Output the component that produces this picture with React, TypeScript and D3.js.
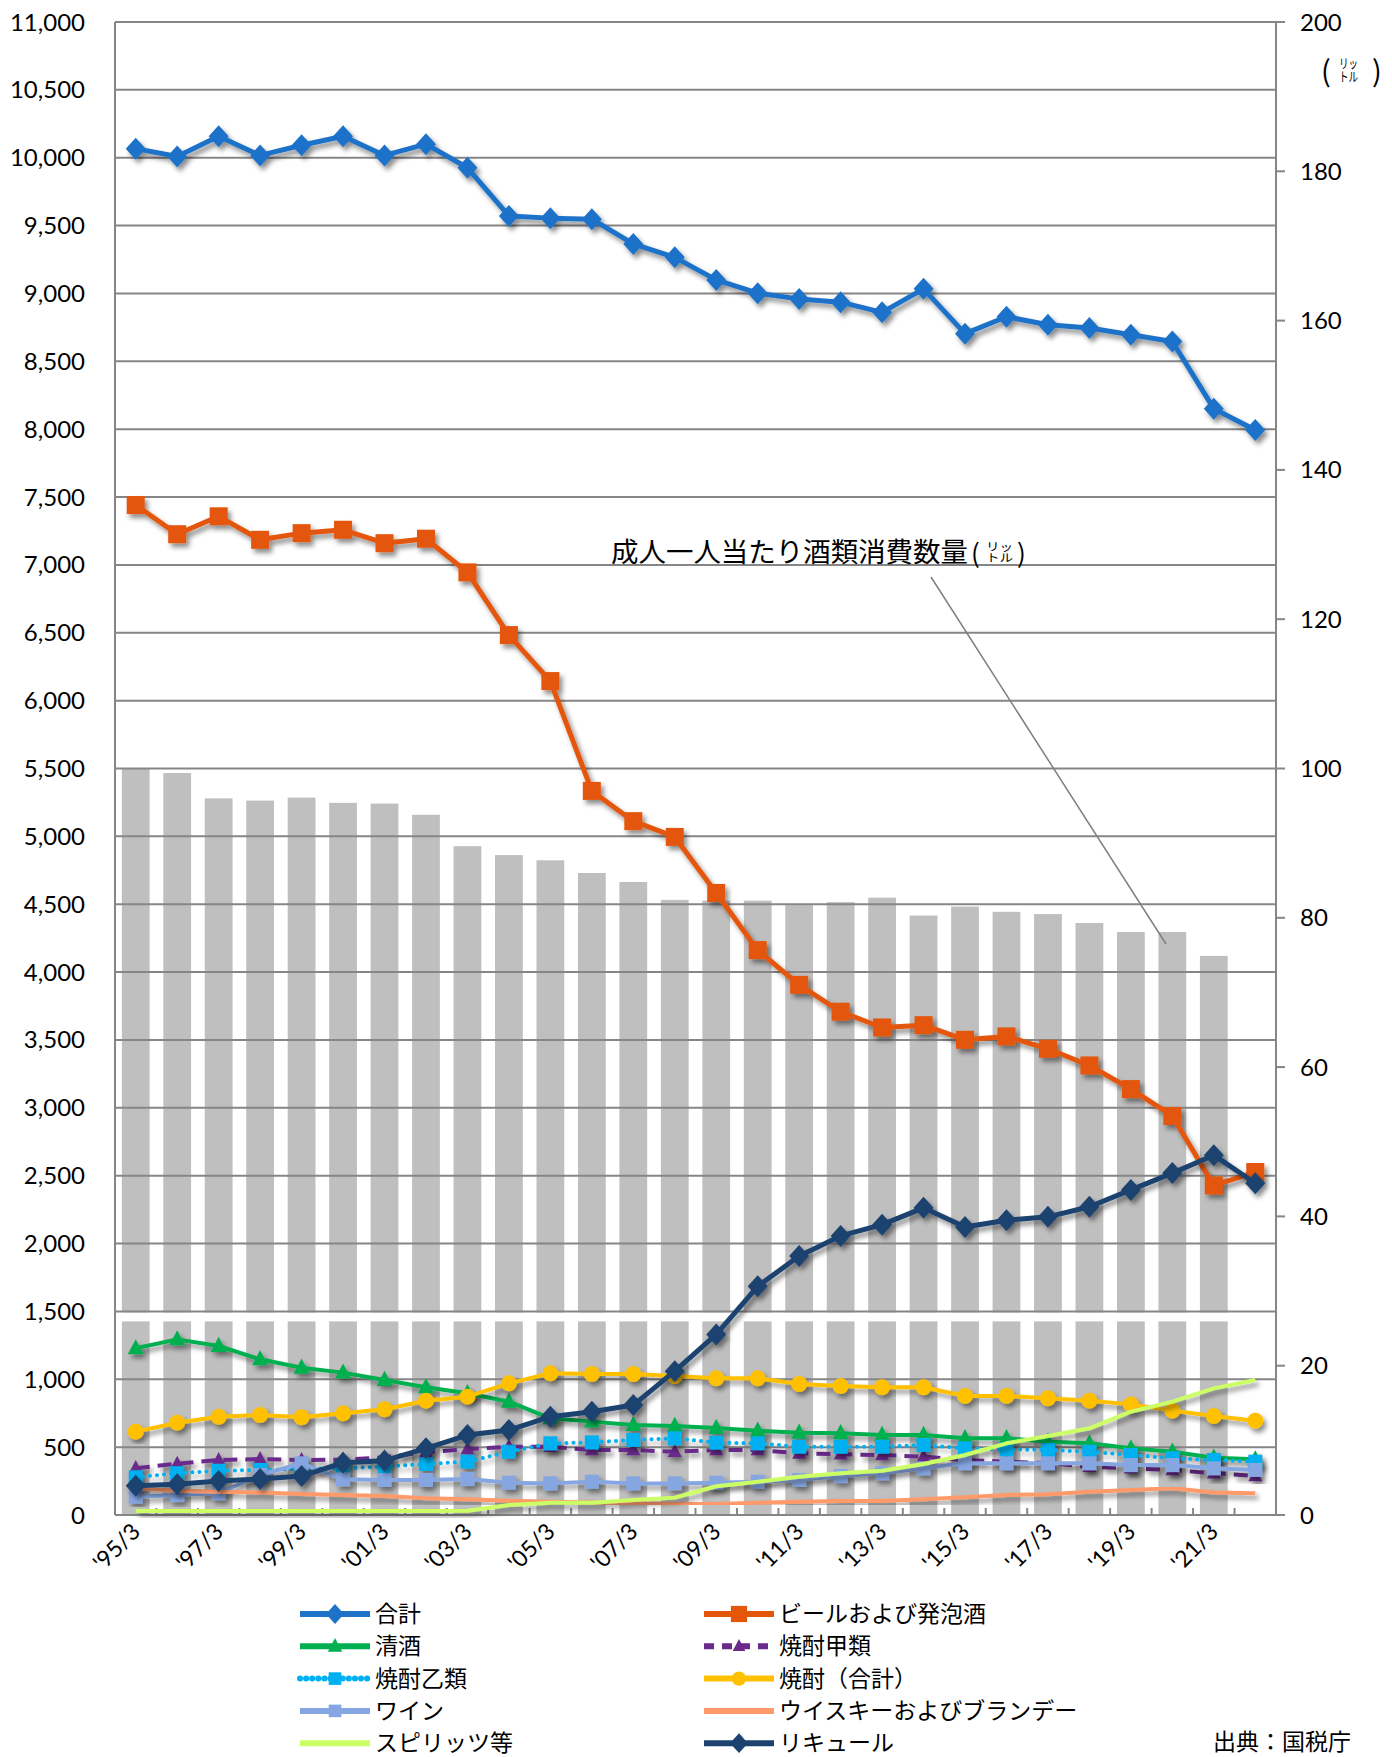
import React from "react";
import * as d3 from "d3";

// fiscal years (March ends)
const categories = [
  "'95/3", "'96/3", "'97/3", "'98/3", "'99/3", "'00/3", "'01/3", "'02/3", "'03/3", "'04/3",
  "'05/3", "'06/3", "'07/3", "'08/3", "'09/3", "'10/3", "'11/3", "'12/3", "'13/3", "'14/3",
  "'15/3", "'16/3", "'17/3", "'18/3", "'19/3", "'20/3", "'21/3", "'22/3",
];

// 千kl (left axis)
const total = [10067, 10009, 10158, 10017, 10092, 10158, 10017, 10100, 9926, 9571, 9555, 9547, 9365, 9266, 9100, 9002, 8960, 8936, 8861, 9034, 8704, 8828, 8770, 8746, 8696, 8646, 8151, 7994];
const beer = [7441, 7226, 7358, 7185, 7234, 7259, 7160, 7193, 6945, 6483, 6144, 5335, 5112, 4996, 4583, 4162, 3906, 3708, 3592, 3609, 3501, 3526, 3435, 3312, 3138, 2940, 2428, 2527];
const sake = [1228, 1294, 1245, 1147, 1085, 1049, 995, 941, 897, 835, 712, 688, 663, 656, 641, 621, 606, 602, 589, 589, 565, 565, 540, 528, 491, 466, 422, 410];
const shochuKou = [345, 378, 405, 412, 405, 408, 425, 463, 485, 503, 503, 479, 479, 466, 479, 479, 454, 447, 442, 430, 405, 393, 381, 356, 344, 332, 307, 288];
const shochuOtsu = [278, 308, 326, 332, 340, 344, 356, 376, 393, 466, 528, 535, 553, 565, 533, 528, 503, 503, 503, 516, 491, 484, 479, 466, 442, 418, 405, 393];
const shochuTotal = [614, 680, 724, 737, 720, 749, 779, 842, 872, 970, 1044, 1039, 1039, 1024, 1007, 1007, 965, 950, 941, 941, 877, 877, 860, 842, 815, 769, 729, 695];
const wine = [135, 147, 160, 295, 381, 263, 258, 258, 265, 238, 233, 245, 233, 233, 238, 245, 258, 287, 307, 344, 381, 381, 381, 381, 368, 368, 344, 332];
const whisky = [197, 179, 172, 165, 155, 147, 140, 123, 116, 105, 98, 93, 86, 81, 81, 91, 98, 103, 103, 116, 130, 147, 152, 172, 184, 197, 165, 160];
const spirits = [30, 30, 30, 30, 30, 30, 30, 30, 32, 74, 91, 91, 110, 128, 212, 245, 282, 307, 326, 376, 442, 528, 582, 639, 761, 835, 933, 995];
const liqueur = [216, 226, 250, 265, 287, 385, 400, 491, 589, 626, 724, 761, 810, 1060, 1330, 1685, 1908, 2056, 2139, 2263, 2122, 2172, 2197, 2271, 2395, 2519, 2651, 2444];

// 成人一人当たり (liters, right axis)
const perAdult = [100.0, 99.4, 96.0, 95.7, 96.1, 95.4, 95.3, 93.8, 89.6, 88.4, 87.7, 86.0, 84.8, 82.4, 82.3, 82.3, 81.7, 82.1, 82.7, 80.3, 81.5, 80.8, 80.5, 79.3, 78.1, 78.1, 74.9, null];

const leftTicks = d3.range(0, 11001, 500);
const rightTicks = d3.range(0, 201, 20);

const W = 1392;
const H = 1757;
const plot = { left: 115, right: 1276, top: 22, bottom: 1515 };
const numFont = "Lato, 'Open Sans', sans-serif";
const jpFont = "'Noto Sans CJK JP', sans-serif";

type Marker = "diamond" | "square" | "triangle" | "circle" | "none";

const series = [
  { name: "合計", values: total, color: "#1E72C8", width: 5, dash: "", marker: "diamond" as Marker, size: 10 },
  { name: "ビールおよび発泡酒", values: beer, color: "#E4560A", width: 5, dash: "", marker: "square" as Marker, size: 9 },
  { name: "清酒", values: sake, color: "#00B050", width: 4, dash: "", marker: "triangle" as Marker, size: 8 },
  { name: "焼酎甲類", values: shochuKou, color: "#6A2A8C", width: 4, dash: "14 8", marker: "triangle" as Marker, size: 7 },
  { name: "焼酎乙類", values: shochuOtsu, color: "#00B0F0", width: 4, dash: "0.1 7", marker: "square" as Marker, size: 7 },
  { name: "焼酎（合計）", values: shochuTotal, color: "#FFC000", width: 4, dash: "", marker: "circle" as Marker, size: 8 },
  { name: "ワイン", values: wine, color: "#86A6E2", width: 4, dash: "", marker: "square" as Marker, size: 7 },
  { name: "ウイスキーおよびブランデー", values: whisky, color: "#FF9A6A", width: 4, dash: "", marker: "none" as Marker, size: 0 },
  { name: "スピリッツ等", values: spirits, color: "#CCFF66", width: 4, dash: "", marker: "none" as Marker, size: 0 },
  { name: "リキュール", values: liqueur, color: "#1D426F", width: 5, dash: "", marker: "diamond" as Marker, size: 10 },
];

// legend layout: two columns, rows in this order
const legendOrder = [
  ["合計", "ビールおよび発泡酒"],
  ["清酒", "焼酎甲類"],
  ["焼酎乙類", "焼酎（合計）"],
  ["ワイン", "ウイスキーおよびブランデー"],
  ["スピリッツ等", "リキュール"],
];

function MarkerShape({ type, x, y, s, color }: { type: Marker; x: number; y: number; s: number; color: string }) {
  if (type === "diamond") {
    return <path d={`M${x},${y - s * 1.1}L${x + s},${y}L${x},${y + s * 1.1}L${x - s},${y}Z`} fill={color} />;
  }
  if (type === "square") {
    return <rect x={x - s} y={y - s} width={s * 2} height={s * 2} fill={color} />;
  }
  if (type === "triangle") {
    return <path d={`M${x},${y - s * 1.15}L${x + s},${y + s * 0.75}L${x - s},${y + s * 0.75}Z`} fill={color} />;
  }
  if (type === "circle") {
    return <circle cx={x} cy={y} r={s} fill={color} />;
  }
  return null;
}

// "(リットル)" with the katakana stacked in two rows, as in the source
function LiterUnit(p: {
  openX: number; midX: number; midW: number; closeX: number;
  base: number; big: number; small: number;
}) {
  return (
    <g fontFamily={jpFont} fill="#000">
      <text x={p.openX} y={p.base + p.big * 0.05} fontSize={p.big}>(</text>
      <text x={p.midX} y={p.base - p.small * 1.02} fontSize={p.small} textLength={p.midW} lengthAdjust="spacingAndGlyphs">リッ</text>
      <text x={p.midX} y={p.base} fontSize={p.small} textLength={p.midW} lengthAdjust="spacingAndGlyphs">トル</text>
      <text x={p.closeX} y={p.base + p.big * 0.05} fontSize={p.big}>)</text>
    </g>
  );
}

export default function App() {
  const x = d3
    .scaleBand<string>()
    .domain(categories)
    .range([plot.left, plot.right])
    .paddingInner(0.33)
    .paddingOuter(0.165);
  const cx = (i: number) => (x(categories[i]) as number) + x.bandwidth() / 2;
  const step = x.step();

  const yL = d3.scaleLinear().domain([0, 11000]).range([plot.bottom, plot.top]);
  const yR = d3.scaleLinear().domain([0, 200]).range([plot.bottom, plot.top]);

  const line = d3
    .line<number>()
    .x((_, i) => cx(i))
    .y((d) => yL(d));

  const byName = (n: string) => series.find((s) => s.name === n)!;

  return (
    <svg
      width={W}
      height={H}
      style={{ position: "absolute", left: 0, top: 0, background: "#fff" }}
    >
      <defs>
        <filter id="shadow" x="-5%" y="-5%" width="110%" height="110%">
          <feDropShadow dx="3" dy="4" stdDeviation="2.5" floodColor="#000" floodOpacity="0.45" />
        </filter>
      </defs>

      {/* bars: 成人一人当たり酒類消費数量 */}
      <g>
        {perAdult.map((v, i) =>
          v == null ? null : (
            <rect
              key={i}
              x={x(categories[i])}
              y={yR(v)}
              width={x.bandwidth()}
              height={plot.bottom - yR(v)}
              fill="#BFBFBF"
            />
          )
        )}
      </g>
      {/* white seam across the bars below 1,500 */}
      <rect x={plot.left} y={yL(1500) + 1} width={plot.right - plot.left} height={9} fill="#fff" />

      {/* gridlines */}
      <g stroke="#868686" strokeWidth={2}>
        {leftTicks.map((t) => (
          <line key={t} x1={plot.left} x2={plot.right} y1={yL(t)} y2={yL(t)} />
        ))}
        <line x1={plot.left} x2={plot.left} y1={plot.top} y2={plot.bottom} />
        <line x1={plot.right} x2={plot.right} y1={plot.top} y2={plot.bottom} />
        {rightTicks.map((t) => (
          <line key={t} x1={plot.right} x2={plot.right + 9} y1={yR(t)} y2={yR(t)} />
        ))}
        {categories.map((c, i) => (
          <line key={c} x1={plot.left + step * i} x2={plot.left + step * i} y1={plot.bottom} y2={plot.bottom - 7} />
        ))}
      </g>

      {/* series */}
      {series.map((s) => (
        <g key={s.name} filter="url(#shadow)">
          <path
            d={line(s.values) as string}
            fill="none"
            stroke={s.color}
            strokeWidth={s.width}
            strokeDasharray={s.dash || undefined}
            strokeLinecap={s.dash.startsWith("0.1") ? "round" : "butt"}
            strokeLinejoin="round"
          />
          {s.values.map((v, i) => (
            <MarkerShape key={i} type={s.marker} x={cx(i)} y={yL(v)} s={s.size} color={s.color} />
          ))}
        </g>
      ))}

      {/* left axis labels */}
      <g fontFamily={numFont} fontSize={24} fill="#000" textAnchor="end">
        {leftTicks.map((t) => (
          <text key={t} x={85} y={yL(t) + 8.5}>
            {d3.format(",")(t)}
          </text>
        ))}
      </g>

      {/* right axis labels */}
      <g fontFamily={numFont} fontSize={24} fill="#000" textAnchor="start">
        {rightTicks.map((t) => (
          <text key={t} x={1300} y={yR(t) + 8.5}>
            {t}
          </text>
        ))}
      </g>

      {/* right axis unit */}
      <LiterUnit openX={1321} midX={1339} midW={19} closeX={1372} base={81} big={29} small={13} />

      {/* x axis labels */}
      <g fontFamily={numFont} fontSize={23} fill="#000" textAnchor="end">
        {categories.map((c, i) =>
          i % 2 === 0 ? (
            <text key={c} transform={`translate(${cx(i) + 6},${plot.bottom + 18}) rotate(-45)`}>
              {c}
            </text>
          ) : null
        )}
      </g>

      {/* annotation */}
      <text
        x={611}
        y={562}
        fontFamily={jpFont}
        fontSize={27}
        fill="#000"
        textLength={357}
        lengthAdjust="spacingAndGlyphs"
      >
        成人一人当たり酒類消費数量
      </text>
      <LiterUnit openX={971} midX={986} midW={27} closeX={1017} base={562} big={26} small={11} />
      <line x1={931} y1={577} x2={1166} y2={944} stroke="#7F7F7F" strokeWidth={1.5} />

      {/* legend */}
      <g>
        {legendOrder.map((row, r) =>
          row.map((name, c) => {
            const s = byName(name);
            const lx = c === 0 ? 300 : 704;
            const ly = 1614 + r * 32.3;
            return (
              <g key={name}>
                <line
                  x1={lx}
                  x2={lx + 70}
                  y1={ly}
                  y2={ly}
                  stroke={s.color}
                  strokeWidth={6}
                  strokeDasharray={s.dash ? (s.dash.startsWith("0.1") ? "0.1 6" : "10 8") : undefined}
                  strokeLinecap={s.dash.startsWith("0.1") ? "round" : "butt"}
                />
                <MarkerShape type={s.marker} x={lx + 35} y={ly} s={s.size * 0.9} color={s.color} />
                <text x={lx + 75} y={ly + 8} fontFamily={jpFont} fontSize={23} fill="#000">
                  {name}
                </text>
              </g>
            );
          })
        )}
        <text x={1213} y={1750} fontFamily={jpFont} fontSize={23} fill="#000">
          出典：国税庁
        </text>
      </g>
    </svg>
  );
}
